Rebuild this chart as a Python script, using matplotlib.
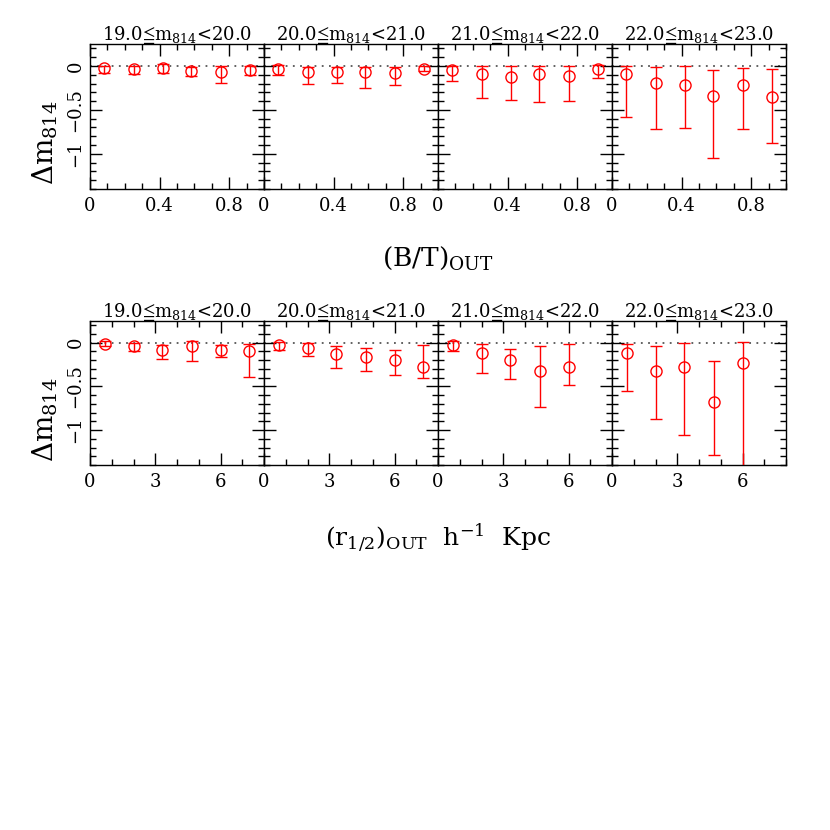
import matplotlib
matplotlib.use('Agg')
import matplotlib.pyplot as plt
from matplotlib.ticker import MultipleLocator, FuncFormatter

plt.rcParams['font.family'] = ['DejaVu Serif', 'DejaVu Sans']
plt.rcParams['mathtext.fontset'] = 'custom'
plt.rcParams['mathtext.rm'] = 'DejaVu Serif'
plt.rcParams['mathtext.it'] = 'DejaVu Serif'
plt.rcParams['mathtext.fallback'] = 'stix'

# magnitude bins (panel titles)
mag_lo = ['19.0', '20.0', '21.0', '22.0']
mag_hi = ['20.0', '21.0', '22.0', '23.0']

# top row: (B/T)_OUT
bt_x = [0.083, 0.25, 0.417, 0.583, 0.75, 0.917]
bt_val = [
    [-0.027, -0.038, -0.027, -0.060, -0.064, -0.045],
    [-0.034, -0.072, -0.064, -0.072, -0.080, -0.034],
    [-0.042, -0.095, -0.125, -0.087, -0.110, -0.038],
    [-0.087, -0.193, -0.220, -0.340, -0.220, -0.352],
]
bt_lo = [
    [-0.083, -0.090, -0.080, -0.114, -0.193, -0.100],
    [-0.100, -0.205, -0.190, -0.250, -0.216, -0.060],
    [-0.170, -0.367, -0.390, -0.410, -0.400, -0.140],
    [-0.576, -0.720, -0.710, -1.045, -0.720, -0.880],
]
bt_hi = [
    [0.000, 0.000, 0.020, -0.015, 0.000, 0.000],
    [0.015, -0.008, -0.008, -0.015, -0.015, 0.000],
    [0.000, 0.000, 0.000, 0.000, 0.000, 0.008],
    [0.000, -0.011, 0.000, -0.050, -0.020, -0.038],
]

# bottom row: (r_1/2)_OUT
r_x = [0.667, 2.0, 3.333, 4.667, 6.0, 7.333]
r_val = [
    [-0.011, -0.042, -0.080, -0.034, -0.087, -0.100],
    [-0.027, -0.064, -0.136, -0.167, -0.197, -0.284],
    [-0.027, -0.120, -0.197, -0.320, -0.284],
    [-0.120, -0.330, -0.280, -0.680, -0.235],
]
r_lo = [
    [-0.045, -0.100, -0.190, -0.210, -0.163, -0.390],
    [-0.080, -0.155, -0.290, -0.330, -0.375, -0.405],
    [-0.100, -0.350, -0.420, -0.735, -0.485],
    [-0.550, -0.870, -1.053, -1.290, -1.600],
]
r_hi = [
    [0.020, 0.000, -0.027, 0.020, -0.027, -0.020],
    [0.010, -0.010, -0.034, -0.060, -0.080, -0.027],
    [0.015, -0.020, -0.076, -0.038, -0.020],
    [-0.020, -0.034, 0.000, -0.216, 0.011],
]

W, H = 830.0, 830.0
fig = plt.figure(figsize=(8.3, 8.3), dpi=100)

left = 90 / W
pw = 174 / W


def yfmt(v, pos):
    if abs(v) < 1e-9:
        return '0'
    return ('%g' % v).replace('-', '\u2212')


def draw_row(top, bot, xs, vals, los, his, xmax, xmajor, xminor, xfmt):
    for i in range(4):
        ax = fig.add_axes([left + i * pw, 1 - bot / H, pw, (bot - top) / H])
        ax.axhline(0, color='#555555', ls=(0, (1, 3)), lw=1.3, zorder=1)
        n = len(vals[i])
        x = xs[:n]
        yerr = [[v - l for v, l in zip(vals[i], los[i])],
                [h - v for v, h in zip(vals[i], his[i])]]
        ax.errorbar(x, vals[i], yerr=yerr, fmt='o', mfc='none', mec='red',
                    ms=8, mew=1.0, ecolor='red', elinewidth=1.0, capsize=4,
                    capthick=1.0, zorder=3)
        ax.set_xlim(0, xmax)
        ax.set_ylim(-1.4, 0.25)
        ax.xaxis.set_major_locator(MultipleLocator(xmajor))
        ax.xaxis.set_minor_locator(MultipleLocator(xminor))
        ax.yaxis.set_major_locator(MultipleLocator(0.5))
        ax.yaxis.set_minor_locator(MultipleLocator(0.1))
        ax.xaxis.set_major_formatter(FuncFormatter(xfmt))
        ax.yaxis.set_major_formatter(FuncFormatter(yfmt))
        ax.tick_params(which='both', direction='in', top=True, right=True,
                       width=1.0, labelsize=13)
        ax.tick_params(which='major', length=8.5)
        ax.tick_params(which='minor', length=4.3)
        ax.tick_params(axis='x', pad=6)
        ax.tick_params(axis='y', pad=4, labelrotation=90)
        for lab in ax.get_yticklabels():
            lab.set_va('center')
        if i > 0:
            ax.tick_params(axis='y', labelleft=False)
        for sp in ax.spines.values():
            sp.set_linewidth(1.0)
        ax.text(0.5, 1.025, mag_lo[i] + '$\\mathrm{\u2266m_{814}}$<' + mag_hi[i],
                transform=ax.transAxes, ha='center', va='baseline', fontsize=13)


draw_row(44, 189, bt_x, bt_val, bt_lo, bt_hi, 1.0, 0.4, 0.1,
         lambda v, p: '0' if abs(v) < 1e-9 else '%.1f' % v)
draw_row(320.7, 465, r_x, r_val, r_lo, r_hi, 8.0, 3, 1,
         lambda v, p: '%d' % round(v))

fig.text(45 / W, 1 - 143 / H, '$\\Delta\\mathrm{m_{814}}$', rotation=90,
         ha='center', va='center', fontsize=20)
fig.text(45 / W, 1 - 420 / H, '$\\Delta\\mathrm{m_{814}}$', rotation=90,
         ha='center', va='center', fontsize=20)
fig.text(438 / W, 1 - 258 / H, '$\\mathrm{(B/T)_{OUT}}$',
         ha='center', va='center', fontsize=19)
fig.text(438 / W, 1 - 537 / H, '$\\mathrm{(r_{1/2})_{OUT}\\ \\ h^{-1}\\ \\ Kpc}$',
         ha='center', va='center', fontsize=18)

fig.savefig('out.png', dpi=100)
